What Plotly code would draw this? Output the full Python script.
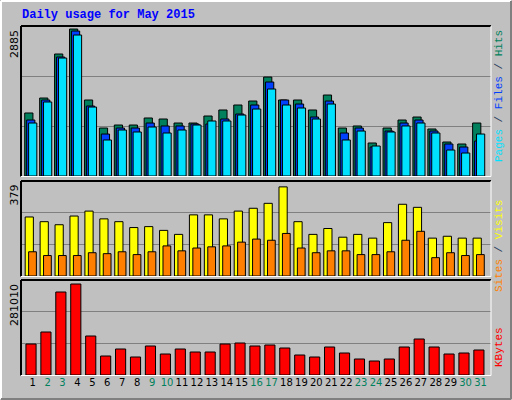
import plotly.graph_objects as go

days = list(range(1, 32))
hits = [1237,1531,2395,2885,1492,942,1001,1001,1139,1119,1040,1040,1178,1296,1394,1472,1943,1492,1492,1296,1590,942,982,648,942,1099,1158,923,667,628,1040]
files = [1099,1492,2336,2846,1374,824,942,942,1040,982,982,1021,1021,1119,1217,1394,1845,1492,1413,1158,1472,844,942,569,883,1040,1099,883,628,569,687]
pages = [1040,1453,2316,2768,1354,707,903,864,962,844,903,1001,1080,1080,1197,1315,1708,1394,1335,1119,1413,707,883,589,864,982,1040,844,510,451,824]
visits = [251,231,218,255,276,243,231,206,210,194,177,260,260,243,276,288,309,379,231,177,202,165,177,161,227,305,292,161,169,161,161]
sites = [103,87,87,87,99,95,103,91,103,128,107,119,124,128,144,157,152,181,119,99,107,107,91,91,103,152,190,78,99,87,91]
kbytes = [95728,132784,256304,281010,120432,58672,80288,55584,89552,64848,80288,71024,71024,95728,98816,89552,92640,83376,61760,55584,86464,67936,49408,43232,49408,86464,111168,86464,64848,67936,77200]
weekend = {2,3,9,10,16,17,23,24,30,31}
tick_text = [f'<span style="color:#00805c">{d}</span>' if d in weekend else str(d) for d in days]

fig = go.Figure()
def bar(y, color, off, w, ax):
    fig.add_trace(go.Bar(x=days, y=y, marker=dict(color=color, line=dict(color="black", width=1)),
                         offset=off, width=w, xaxis=ax[0], yaxis=ax[1], showlegend=False, hoverinfo="skip"))
bar(hits, "#00805c", -0.53, 0.55, ("x", "y"))
bar(files, "#0040ff", -0.40, 0.55, ("x", "y"))
bar(pages, "#00e0ff", -0.27, 0.55, ("x", "y"))
bar(visits, "#ffff00", -0.5, 0.55, ("x2", "y2"))
bar(sites, "#ff8000", -0.27, 0.52, ("x2", "y2"))
bar(kbytes, "#ff0000", -0.45, 0.68, ("x3", "y3"))

xr = [0.22, 31.7]
xd = [21/512, 491/512]
r1, r2, r3 = 2945, 404, 293360
common_x = dict(range=xr, domain=xd, showgrid=False, zeroline=False, showline=False, fixedrange=True, automargin=False)
def yax(rng, dom):
    return dict(range=[0, rng], domain=dom, tickvals=[rng/3, 2*rng/3], showticklabels=False, ticks="",
                showgrid=True, gridcolor="#808080", gridwidth=1, zeroline=False, showline=False, automargin=False)
fig.update_layout(
    width=512, height=400, margin=dict(l=0, r=0, t=0, b=0, autoexpand=False),
    paper_bgcolor="#c0c0c0", plot_bgcolor="#c0c0c0", barmode="overlay",
    xaxis=dict(**common_x, anchor="y", showticklabels=False),
    xaxis2=dict(**common_x, anchor="y2", showticklabels=False),
    xaxis3=dict(**common_x, anchor="y3", tickvals=days, ticktext=tick_text, ticks="", tickangle=0,
                tickfont=dict(family="DejaVu Sans", size=10, color="black")),
    yaxis=yax(r1, [1-176/400, 1-26/400]),
    yaxis2=yax(r2, [1-276/400, 1-181/400]),
    yaxis3=yax(r3, [1-375/400, 1-280/400]),
    font=dict(family="Liberation Mono", size=11),
)
ann = [
    dict(x=20/512, y=1-15/400, text="<b>Daily usage for May 2015</b>", xanchor="left", yanchor="middle",
         font=dict(color="#0000ff", size=12, family="Liberation Mono")),
    dict(x=14/512, y=1-28/400, text="2885", textangle=-90, xanchor="center", yanchor="top", font=dict(color="black", family="DejaVu Sans", size=11)),
    dict(x=14/512, y=1-183/400, text="379", textangle=-90, xanchor="center", yanchor="top", font=dict(color="black", family="DejaVu Sans", size=11)),
    dict(x=14/512, y=1-282/400, text="281010", textangle=-90, xanchor="center", yanchor="top", font=dict(color="black", family="DejaVu Sans", size=11)),
    dict(x=499/512, y=1-28/400, textangle=-90, xanchor="center", yanchor="top",
         text='<span style="color:#00e0ff">Pages</span> / <span style="color:#0040ff">Files</span> / <span style="color:#00805c">Hits</span>'),
    dict(x=499/512, y=1-198/400, textangle=-90, xanchor="center", yanchor="top",
         text='<span style="color:#ff8000">Sites</span> / <span style="color:#ffff00">Visits</span>'),
    dict(x=499/512, y=1-325/400, textangle=-90, xanchor="center", yanchor="top",
         text='<span style="color:#ff0000">KBytes</span>'),
]
for a in ann:
    a.update(xref="paper", yref="paper", showarrow=False)
fig.update_layout(annotations=ann)

shapes = []
def line(x0, y0, x1, y1, c, w=1):
    shapes.append(dict(type="line", xref="paper", yref="paper", x0=x0/512, y0=1-y0/400, x1=x1/512, y1=1-y1/400,
                       line=dict(color=c, width=w)))
line(1, 1, 511, 1, "white", 2); line(1, 1, 1, 399, "white", 2)
line(1, 399, 511, 399, "#808080", 2); line(511, 1, 511, 399, "#808080", 2)
for t, b in [(26, 176.5), (181, 276.5), (280, 375.5)]:
    line(21, t, 491, t, "black", 2); line(21, t, 21, b, "black", 2)
    line(21, b, 491, b, "white", 1); line(491, t, 491, b, "white", 1)
fig.update_layout(shapes=shapes)
fig.write_html("out.html", config={"displayModeBar": False},
               post_script="document.body.style.margin='0';document.body.style.overflow='hidden';")
